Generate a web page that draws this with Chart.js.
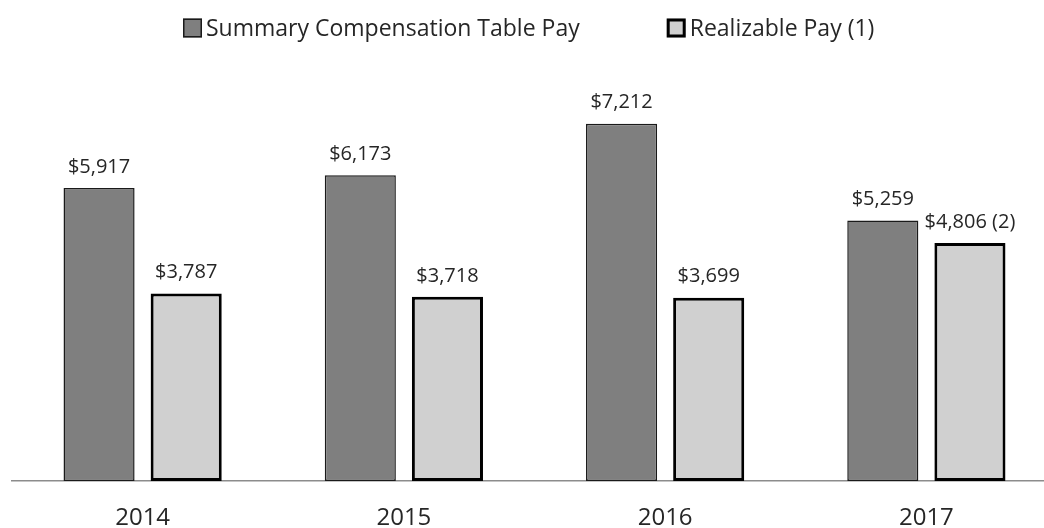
<!DOCTYPE html>
<html>
<head>
<meta charset="utf-8">
<script src="https://cdn.jsdelivr.net/npm/chart.js@4/dist/chart.umd.min.js"></script>
<style>
  html, body { margin: 0; padding: 0; background: #fff; overflow: hidden; }
  /* o gráfico original passa um pouco da borda direita */
  #wrap { width: 1057px; height: 528px; }
</style>
</head>
<body>
<div id="wrap"><canvas id="grafico"></canvas></div>
<script>
// dados
const anos = ['2014', '2015', '2016', '2017'];
const summaryPay = [5917, 6173, 7212, 5259];
const realizablePay = [3787, 3718, 3699, 4806];
const rotulosReal = ['$3,787', '$3,718', '$3,699', '$4,806 (2)'];

const fonte = "'Open Sans', 'Noto Sans', sans-serif";

// plugin simples para escrever os valores em cima das barras
const rotulos = {
  id: 'rotulos',
  afterDatasetsDraw(chart) {
    const ctx = chart.ctx;
    ctx.save();
    ctx.font = '20px ' + fonte;
    ctx.fillStyle = '#262626';
    ctx.textAlign = 'center';
    ctx.textBaseline = 'bottom';
    chart.data.datasets.forEach((ds, i) => {
      chart.getDatasetMeta(i).data.forEach((bar, j) => {
        let txt = i === 0 ? '$' + ds.data[j].toLocaleString('en-US') : rotulosReal[j];
        ctx.fillText(txt, bar.x, bar.y - 11);
      });
    });
    ctx.restore();
  }
};

// legenda desenhada na mão (o espaçamento da legenda padrão não bate)
const legenda = {
  id: 'legenda',
  afterDraw(chart) {
    const ctx = chart.ctx;
    const ds = chart.data.datasets;
    const caixa = 19, gapTexto = 4, gapItens = 87, y = 28;
    ctx.save();
    ctx.font = '23px ' + fonte;
    let x = 183;
    ds.forEach((d) => {
      const bw = d.borderWidth;
      ctx.fillStyle = d.backgroundColor;
      ctx.fillRect(x, y - caixa / 2, caixa, caixa);
      ctx.lineWidth = bw;
      ctx.strokeStyle = d.borderColor;
      ctx.strokeRect(x + bw / 2, y - caixa / 2 + bw / 2, caixa - bw, caixa - bw);
      ctx.fillStyle = '#262626';
      ctx.textBaseline = 'middle';
      ctx.fillText(d.label, x + caixa + gapTexto, y + 1);
      x += caixa + gapTexto + ctx.measureText(d.label).width + gapItens;
    });
    ctx.restore();
  }
};

const ctx = document.getElementById('grafico');

new Chart(ctx, {
  type: 'bar',
  data: {
    labels: anos,
    datasets: [{
      label: 'Summary Compensation Table Pay',
      data: summaryPay,
      backgroundColor: '#7f7f7f',
      borderColor: '#1a1a1a',
      borderWidth: 1.5,
      borderSkipped: false
    }, {
      label: 'Realizable Pay (1)',
      data: realizablePay,
      backgroundColor: '#d0d0d0',
      borderColor: '#000',
      borderWidth: 3,
      borderSkipped: false
    }]
  },
  options: {
    responsive: true,
    maintainAspectRatio: false,
    animation: false,
    categoryPercentage: 0.667,
    barPercentage: 0.816,
    layout: { padding: { left: 12, right: 0, top: 60, bottom: 0 } },
    scales: {
      x: {
        grid: { display: false, drawTicks: false },
        border: { display: true, color: '#8c8c8c', width: 1.5 },
        ticks: { color: '#262626', font: { size: 24, family: fonte }, padding: 23 },
        afterFit(scale) { scale.height = 47; } // altura fixa para a linha ficar no lugar certo
      },
      y: {
        display: false,
        min: 0,
        max: 8500
      }
    },
    plugins: {
      legend: { display: false },
      tooltip: { enabled: false }
    }
  },
  plugins: [rotulos, legenda]
});
</script>
</body>
</html>
